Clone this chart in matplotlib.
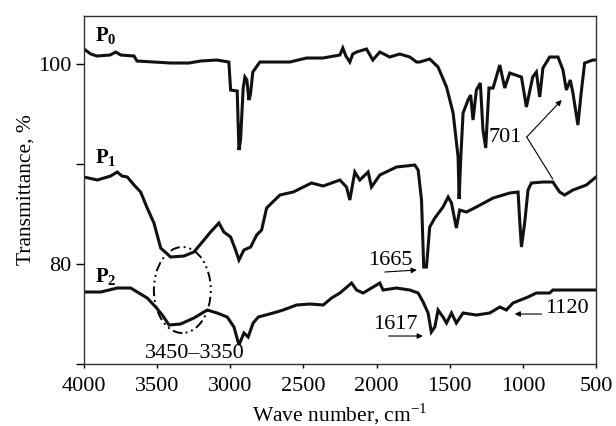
import numpy as np
import matplotlib
matplotlib.use("Agg")
import matplotlib.pyplot as plt
from matplotlib.patches import Ellipse

plt.rcParams["font.family"] = ["Liberation Serif", "DejaVu Serif"]
plt.rcParams["mathtext.fontset"] = "custom"
plt.rcParams["mathtext.rm"] = "Liberation Serif"
plt.rcParams["mathtext.bf"] = "Liberation Serif:bold"

# IR spectra, wave number (cm-1) vs transmittance (%)
p0_wave = [4000, 3954, 3911, 3822, 3783, 3749, 3658, 3638, 3522, 3408, 3283, 3203,
           3092, 3010, 2998, 2953, 2941, 2930, 2912, 2900, 2887, 2873, 2863, 2846,
           2798, 2709, 2593, 2479, 2367, 2251, 2231, 2210, 2183, 2163, 2137, 2069,
           2026, 1978, 1910, 1842, 1773, 1727, 1705, 1637, 1580, 1522, 1477, 1443,
           1436, 1425, 1409, 1375, 1357, 1341, 1318, 1291, 1273, 1254, 1232, 1204,
           1158, 1124, 1090, 1010, 976, 933, 908, 885, 863, 817, 760, 726, 703, 676,
           658, 624, 601, 578, 521, 500]
p0_trans = [101.5, 101.0, 100.8, 100.9, 101.2, 100.9, 100.8, 100.3, 100.2, 100.1, 100.1, 100.3,
            100.4, 100.2, 97.4, 97.3, 91.4, 92.4, 97.6, 98.7, 98.4, 96.4, 96.9, 99.2,
            100.2, 100.2, 100.2, 100.6, 100.6, 100.9, 101.6, 100.8, 100.2, 101.0, 101.2, 101.5,
            100.4, 101.2, 100.7, 101.0, 100.7, 100.2, 100.2, 100.5, 99.7, 97.7, 95.1, 90.7,
            86.5, 90.5, 95.1, 96.4, 96.9, 94.4, 97.4, 98.1, 93.4, 91.6, 97.6, 97.6,
            99.9, 97.6, 99.1, 98.7, 95.7, 98.7, 99.2, 96.7, 99.6, 100.7, 100.7, 99.4, 97.4, 98.4,
            97.1, 93.9, 97.2, 100.1, 100.4, 100.4]

p1_wave = [4000, 3909, 3818, 3773, 3740, 3704, 3658, 3613, 3568, 3522, 3476, 3408,
           3317, 3249, 3180, 3135, 3078, 3044, 2998, 2964, 2941, 2907, 2861, 2820,
           2786, 2752, 2661, 2570, 2445, 2365, 2251, 2206, 2183, 2149, 2115, 2058,
           2035, 1978, 1864, 1739, 1716, 1693, 1678, 1659, 1637, 1602, 1546, 1511,
           1488, 1455, 1432, 1386, 1318, 1204, 1090, 1033, 1022, 1010, 988, 965,
           942, 863, 795, 749, 715, 658, 566, 500]
p1_trans = [88.7, 88.4, 88.8, 89.2, 88.8, 88.7, 87.9, 87.2, 85.6, 84.1, 81.6, 80.7,
            80.8, 81.2, 82.4, 83.2, 84.1, 83.2, 82.7, 81.4, 80.4, 81.4, 81.7, 82.9,
            83.4, 85.6, 86.9, 87.2, 88.1, 87.8, 88.4, 87.7, 86.4, 89.2, 88.4, 89.2,
            87.7, 88.9, 89.7, 89.9, 89.4, 86.4, 79.7, 79.7, 83.7, 84.6, 85.7, 86.7,
            86.1, 83.6, 85.4, 85.2, 85.7, 86.6, 87.1, 87.2, 84.4, 81.7, 84.1, 87.4,
            88.1, 88.2, 88.2, 87.2, 86.9, 87.4, 87.9, 88.7]

p2_wave = [4000, 3886, 3773, 3681, 3636, 3568, 3510, 3465, 3419, 3340, 3249, 3158,
           3090, 3021, 2975, 2941, 2907, 2878, 2844, 2809, 2707, 2639, 2547, 2456,
           2365, 2308, 2251, 2171, 2137, 2092, 2058, 1978, 1956, 1864, 1773, 1716,
           1682, 1648, 1626, 1602, 1580, 1546, 1522, 1488, 1455, 1409, 1318, 1227,
           1158, 1113, 1068, 965, 908, 817, 795, 500]
p2_trans = [77.2, 77.2, 77.6, 77.6, 77.2, 76.6, 75.7, 74.9, 73.9, 74.0, 74.6, 75.4,
            75.1, 74.7, 73.7, 71.9, 73.1, 72.7, 74.1, 74.7, 75.1, 75.4, 75.9, 76.0,
            75.9, 76.6, 77.1, 78.1, 77.4, 77.1, 77.4, 78.1, 77.4, 77.6, 77.4, 77.1,
            76.2, 75.1, 73.2, 73.7, 75.4, 74.7, 74.1, 75.1, 74.1, 75.1, 74.9, 75.1,
            75.7, 75.4, 76.1, 76.7, 77.1, 77.1, 77.4, 77.4]

fig = plt.figure(figsize=(6.16, 4.26), dpi=100)
ax = fig.add_axes([0.1364, 0.1455, 0.8312, 0.8169])

for w, t in [(p0_wave, p0_trans), (p1_wave, p1_trans), (p2_wave, p2_trans)]:
    ax.plot(w, t, color="#111111", lw=2.2, solid_joinstyle="miter")

ax.set_xlim(4000, 500)
ax.set_ylim(70, 104.8)
ax.set_xticks(np.arange(4000, 499, -500))
ax.set_yticks([70, 80, 90, 100])
ax.set_yticklabels(["", "80", "", "100"])
ax.tick_params(axis="y", direction="out", length=6, width=1, labelsize=16, pad=3)
ax.tick_params(axis="x", direction="out", length=3, width=1, labelsize=16, pad=6)
for s in ax.spines.values():
    s.set_linewidth(1.0)
    s.set_color("#333333")

ax.set_xlabel("Wave number, cm$^{-1}$", fontsize=15.5, labelpad=4)
ax.set_ylabel("Transmittance, %", fontsize=15.5, labelpad=2)

# curve labels
ax.text(3925, 102.3, r"$\mathbf{P_0}$", fontsize=15, va="baseline", ha="left")
ax.text(3925, 90.1, r"$\mathbf{P_1}$", fontsize=15, va="baseline", ha="left")
ax.text(3925, 78.2, r"$\mathbf{P_2}$", fontsize=15, va="baseline", ha="left")

# band annotations
arrow = dict(arrowstyle="-|>", color="black", lw=0.8, mutation_scale=8,
             shrinkA=0, shrinkB=0)
ax.text(1005, 92.7, "701", fontsize=16, ha="right", va="center")
ax.annotate("", xy=(735, 96.4), xytext=(974, 92.7), arrowprops=arrow)
ax.annotate("", xy=(796, 88.5), xytext=(974, 92.7),
            arrowprops=dict(arrowstyle="-", color="black", lw=0.8,
                            shrinkA=0, shrinkB=0))

ax.text(1903, 80.4, "1665", fontsize=16, ha="center", va="center")
ax.annotate("", xy=(1725, 79.4), xytext=(1944, 79.2), arrowprops=arrow)

ax.text(1872, 74.0, "1617", fontsize=16, ha="center", va="center")
ax.annotate("", xy=(1684, 72.8), xytext=(1917, 72.8), arrowprops=arrow)

ax.text(851, 75.6, "1120", fontsize=16, ha="left", va="center")
ax.annotate("", xy=(1056, 75.0), xytext=(872, 75.0), arrowprops=arrow)

ax.text(3242, 71.1, "3450–3350", fontsize=16, ha="center", va="center")
ax.add_patch(Ellipse((3328, 77.4), 389, 8.6, fill=False, edgecolor="black",
                     lw=1.4, linestyle=(0, (5, 2, 1, 2, 1, 2))))

fig.savefig("out.png", dpi=100)
